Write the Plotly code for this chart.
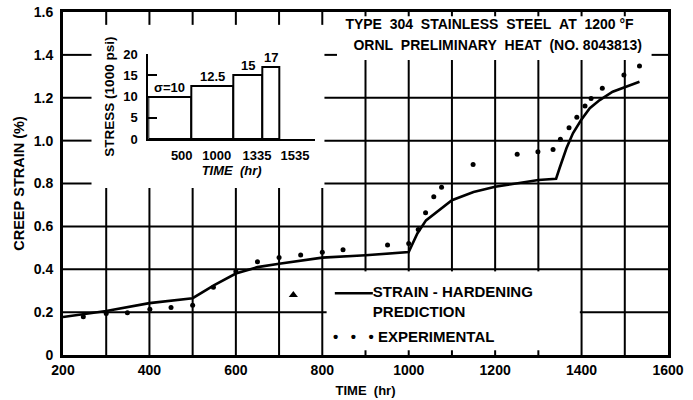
import plotly.graph_objects as go

# ---------------- data ----------------
pred_time = [200, 300, 400, 500, 550, 600, 650, 700, 800, 900, 1000, 1020, 1040, 1070,
             1100, 1150, 1200, 1300, 1341, 1349, 1365, 1380, 1399, 1419, 1442, 1472, 1503, 1534]
pred_strain = [0.177, 0.205, 0.242, 0.265, 0.326, 0.380, 0.410, 0.426, 0.454, 0.465, 0.480,
               0.567, 0.628, 0.674, 0.722, 0.760, 0.785, 0.816, 0.822, 0.871, 0.964, 1.034,
               1.096, 1.151, 1.189, 1.228, 1.251, 1.275]

exp_time = [247, 300, 349, 401, 450, 500, 548, 600, 650, 700, 750, 800, 848, 951, 1000,
            1022, 1039, 1058, 1076, 1149, 1251, 1299, 1334, 1351, 1371, 1389, 1408, 1422,
            1448, 1498, 1534]
exp_strain = [0.179, 0.194, 0.197, 0.213, 0.222, 0.232, 0.316, 0.389, 0.435, 0.455, 0.466,
              0.479, 0.491, 0.513, 0.520, 0.586, 0.664, 0.738, 0.782, 0.889, 0.936, 0.948,
              0.959, 1.006, 1.060, 1.109, 1.161, 1.197, 1.244, 1.306, 1.348]

tri_time = [733]
tri_strain = [0.28]

stress_start = [0, 500, 1000, 1335]
stress_end = [500, 1000, 1335, 1535]
stress_level = [10, 12.5, 15, 17]
stress_text = ["σ=10", "12.5", "15", "17"]

x_ticks = list(range(200, 1601, 100))
x_ticktext = [str(v) if v % 200 == 0 else "" for v in x_ticks]
y_ticks = [0, 0.2, 0.4, 0.6, 0.8, 1.0, 1.2, 1.4, 1.6]
y_ticktext = ["0", "0.2", "0.4", "0.6", "0.8", "1.0", "1.2", "1.4", "1.6"]

inset_xticktext = ["500", "1000", "1335", "1535"]
inset_yticks = [0, 5, 10, 15, 20]

NB = "\u00a0"
S2 = NB * 2
heading_lines = [f"TYPE{S2}304{S2}STAINLESS{S2}STEEL{S2}AT{S2}1200{NB}°F",
                 f"ORNL{S2}PRELIMINARY{S2}HEAT{S2}(NO.{NB}8043813)"]
legend_lines = [f"STRAIN{NB}-{NB}HARDENING", "PREDICTION",
                f"•{NB}{NB}{NB}•{NB}{NB}{NB}•{NB}EXPERIMENTAL"]

# ---------------- figure ----------------
FONT = "Liberation Sans"
X_RANGE = [200, 1600]
Y_RANGE = [0, 1.6]

def f(size, italic=False):
    return dict(family=FONT, size=size, color="black", weight="bold",
                style="italic" if italic else "normal")

fig = go.Figure()
fig.add_trace(go.Scatter(x=pred_time, y=pred_strain, mode="lines",
                         line=dict(color="black", width=2.6), showlegend=False,
                         hoverinfo="skip"))
fig.add_trace(go.Scatter(x=exp_time, y=exp_strain, mode="markers",
                         marker=dict(color="black", size=5), showlegend=False))
fig.add_trace(go.Scatter(x=tri_time, y=tri_strain, mode="markers",
                         marker=dict(color="black", size=8, symbol="triangle-up"),
                         showlegend=False))

# legend key line (same style as the prediction curve)
fig.add_trace(go.Scatter(x=[829, 917], y=[0.288, 0.288], mode="lines",
                         line=dict(color="black", width=2.6), showlegend=False,
                         hoverinfo="skip"))

# heading and legend texts placed inside the main axes
fig.add_trace(go.Scatter(x=[1187, 1206], y=[1.535, 1.437], mode="text",
                         text=heading_lines, textposition="middle center",
                         textfont=f(14), showlegend=False, hoverinfo="skip"))
fig.add_trace(go.Scatter(x=[917, 917, 825], y=[0.288, 0.197, 0.078], mode="text",
                         text=legend_lines, textposition="middle right",
                         textfont=f(15), showlegend=False, hoverinfo="skip"))

widths = [e - s for s, e in zip(stress_start, stress_end)]
fig.add_trace(go.Bar(x=stress_start, y=stress_level, width=widths, offset=0,
                     marker=dict(color="white", line=dict(color="black", width=2)),
                     xaxis="x2", yaxis="y2", showlegend=False))

ax = dict(showgrid=False, showline=True, linecolor="#000000", linewidth=3, mirror=True,
          zeroline=False, ticks="", automargin=False)

fig.update_layout(
    width=693, height=400,
    margin=dict(l=63, r=25, t=12, b=45, autoexpand=False),
    paper_bgcolor="white", plot_bgcolor="rgba(0,0,0,0)",
    showlegend=False, bargap=0,
    xaxis=dict(range=X_RANGE, tickvals=x_ticks, ticktext=x_ticktext, tickfont=f(14),
               title=dict(text=f"TIME{NB}{NB}(hr)", font=f(13), standoff=10), **ax),
    yaxis=dict(range=Y_RANGE, tickvals=y_ticks, ticktext=[t + NB for t in y_ticktext],
               tickfont=f(14),
               title=dict(text=f"CREEP{NB}STRAIN{NB}(%)", font=f(14.5), standoff=6), **ax),
    xaxis2=dict(domain=[0.141, 0.4165], anchor="y2", range=[0, 1950],
                tickvals=[391, 800, 1271, 1716], ticktext=inset_xticktext,
                tickfont=f(13), ticks="", showgrid=False, zeroline=False,
                showline=True, linecolor="black", linewidth=2, ticklabelstandoff=3,
                automargin=False,
                title=dict(text=f"TIME{NB}{NB}(hr)", font=f(13, italic=True), standoff=2)),
    yaxis2=dict(domain=[0.629, 0.8776], anchor="x2", range=[0, 20],
                tickvals=inset_yticks, tickfont=f(13), ticks="inside", ticklen=9,
                tickwidth=2, tickcolor="black", showgrid=False, zeroline=False,
                showline=True, linecolor="black", linewidth=2, ticklabelstandoff=6,
                automargin=False,
                title=dict(text=f"STRESS{NB}(1000{NB}psi)", font=f(13.5), standoff=6)),
)

# blank panels (inset, heading, legend) where the grid is interrupted
panels = [(266, 805, 0.779, 1.54), (834, 1562, 1.376, 1.58), (810, 1396, 0.022, 0.39)]


def free(lo, hi, blocks):
    segs = [(lo, hi)]
    for b0, b1 in blocks:
        out = []
        for s0, s1 in segs:
            if b1 <= s0 or b0 >= s1:
                out.append((s0, s1))
                continue
            if b0 > s0:
                out.append((s0, b0))
            if b1 < s1:
                out.append((b1, s1))
        segs = out
    return segs


gl = dict(type="line", xref="x", yref="y", line=dict(color="#000000", width=2), layer="above")
for v in x_ticks[1:-1]:
    blocks = [(p[2], p[3]) for p in panels if p[0] < v < p[1]]
    for a, b in free(Y_RANGE[0], Y_RANGE[1], blocks):
        fig.add_shape(x0=v, x1=v, y0=a, y1=b, **gl)
for v in y_ticks[1:-1]:
    blocks = [(p[0], p[1]) for p in panels if p[2] < v < p[3]]
    for a, b in free(X_RANGE[0], X_RANGE[1], blocks):
        fig.add_shape(x0=a, x1=b, y0=v, y1=v, **gl)

# step labels in inset
for s, e, lv, t in zip(stress_start, stress_end, stress_level, stress_text):
    fig.add_annotation(x=(s + e) / 2, y=lv, xref="x2", yref="y2", text=t,
                       showarrow=False, xanchor="center", yanchor="bottom", font=f(13))

fig.write_html("out.html")
